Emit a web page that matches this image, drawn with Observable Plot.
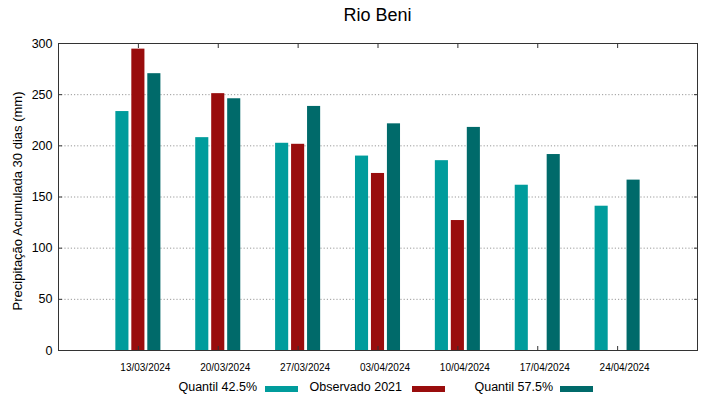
<!DOCTYPE html>
<html><head><meta charset="utf-8">
<script src="https://cdn.jsdelivr.net/npm/d3@7"></script>
<script src="https://cdn.jsdelivr.net/npm/@observablehq/plot@0.6"></script>
<style>
body{margin:0;background:#fff;font-family:"Liberation Sans",Arial,sans-serif;color:#000;}
#wrap{position:relative;width:719px;height:399px;overflow:hidden;background:#fff}
#title{position:absolute;left:58px;width:639px;top:5px;text-align:center;font-size:18px;z-index:2}
#chart{position:absolute;left:0;top:0}
.leg{position:absolute;top:380px;font-size:12.5px;white-space:nowrap;text-align:right}
.sw{position:absolute;top:386px;height:6px;width:33px}
</style></head><body>
<div id="wrap">
<div id="chart"></div>
<div id="title">Rio Beni</div>
<div id="legend"></div>
</div>
<script>
const dates = ["13/03/2024","20/03/2024","27/03/2024","03/04/2024","10/04/2024","17/04/2024","24/04/2024"];
const q425 = [233.5, 208, 202.5, 190, 185.5, 161.5, 141];
const obs2021 = [294.5, 251, 201.5, 173, 127, null, null];
const q575 = [270.5, 246, 238.5, 221.5, 218, 191.5, 166.5];
const seriesNames = ["Quantil 42.5%", "Observado 2021", "Quantil 57.5%"];
const seriesColors = ["#009c9c", "#990d0d", "#006a6a"];
const yTicks = [0, 50, 100, 150, 200, 250, 300];
const gridTicks = [50, 100, 150, 200, 250];
const yLabel = "Precipitação Acumulada 30 dias (mm)";

const seriesValues = [q425, obs2021, q575];
const rows = [];
seriesValues.forEach((vals, s) => vals.forEach((v, i) => {
  if (v != null) rows.push({i, s, series: seriesNames[s], value: v});
}));
const step = 0.2, half = 0.082;
const idx = d3.range(dates.length);

const chart = Plot.plot({
  width: 719, height: 375,
  marginLeft: 58, marginRight: 22, marginTop: 43, marginBottom: 25,
  style: {fontFamily: "Liberation Sans, Arial, sans-serif", background: "transparent", color: "#000"},
  x: {type: "linear", domain: [-1, 7]},
  y: {domain: [0, 300]},
  color: {domain: seriesNames, range: seriesColors},
  marks: [
    Plot.gridY(gridTicks, {stroke: "#999", strokeOpacity: 1, strokeDasharray: "1.2,2"}),
    Plot.rectY(rows, {
      x1: d => d.i + (d.s - 1) * step - half,
      x2: d => d.i + (d.s - 1) * step + half,
      y1: 0, y2: "value", fill: "series"
    }),
    Plot.axisY(yTicks, {tickSize: 0, tickPadding: 6, fontSize: 12.5, label: null}),
    Plot.axisY(yTicks, {anchor: "left", tickSize: -4, tickFormat: () => "", label: null, stroke: "#333"}),
    Plot.axisY(yTicks, {anchor: "right", tickSize: -4, tickFormat: () => "", label: null, stroke: "#333"}),
    Plot.axisX(idx, {tickSize: 0, tickPadding: 13, dx: 7, tickFormat: i => dates[i], fontSize: 10, label: null}),
    Plot.axisX(idx, {anchor: "bottom", tickSize: -4, tickFormat: () => "", label: null, stroke: "#333"}),
    Plot.axisX(idx, {anchor: "top", tickSize: -4, tickFormat: () => "", label: null, stroke: "#333"}),
    Plot.frame({stroke: "#333"}),
    Plot.text([yLabel], {text: d => d, frameAnchor: "left", textAnchor: "middle", rotate: -90, dx: -41, dy: 4, fontSize: 13})
  ]
});
document.getElementById("chart").appendChild(chart);

const legend = document.getElementById("legend");
const textRight = [257, 402, 553];
const swLeft = [265, 412, 560];
seriesNames.forEach((n, k) => {
  const t = document.createElement("div");
  t.className = "leg";
  t.textContent = n;
  t.style.right = (719 - textRight[k]) + "px";
  legend.appendChild(t);
  const s = document.createElement("div");
  s.className = "sw";
  s.style.left = swLeft[k] + "px";
  s.style.background = seriesColors[k];
  legend.appendChild(s);
});
</script>
</body></html>
